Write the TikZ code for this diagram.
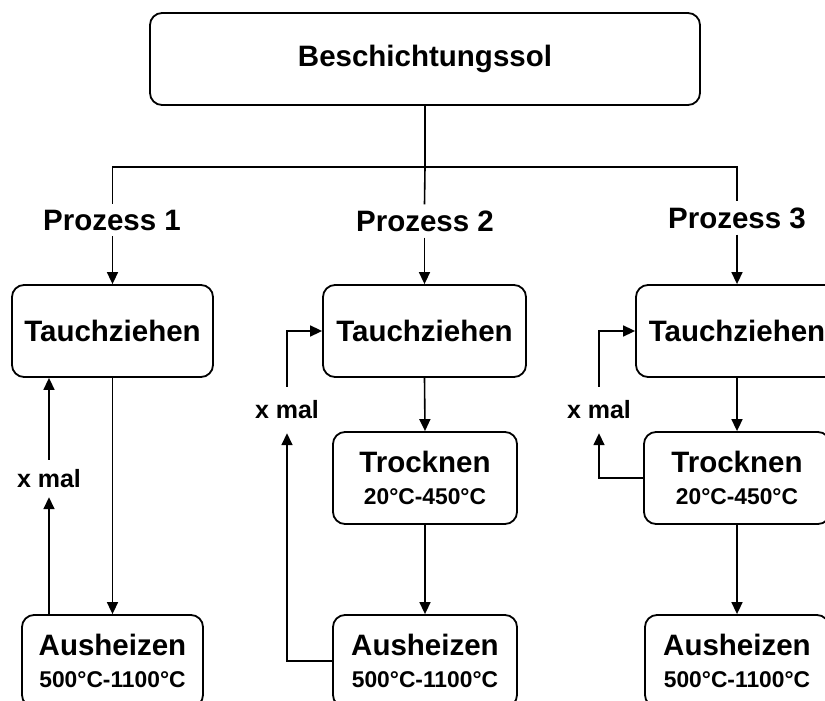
\documentclass[tikz,border=0pt]{standalone}
\usepackage{fontspec}
\setmainfont{Liberation Sans}
\usetikzlibrary{arrows.meta}
\begin{document}
\begin{tikzpicture}[x=1pt,y=-1pt,
  box/.style={draw, line width=1.8pt, rounded corners=12pt, align=center, inner sep=0pt,
    minimum height=92pt, font=\bfseries\fontsize{29.5}{32}\selectfont},
  lbl/.style={inner xsep=0pt, inner ysep=6pt, font=\bfseries\fontsize{29.5}{32}\selectfont},
  xm/.style={inner sep=0pt, font=\bfseries\fontsize{25}{28}\selectfont},
  ln/.style={line width=1.6pt},
  arr/.style={ln, -{Triangle[length=12pt,width=11pt]}}]
\useasboundingbox (0,0) rectangle (825,701);
\newcommand{\tsub}[1]{{\fontsize{22.8}{32}\selectfont #1}}
% top
\node[box, minimum width=550pt] (top) at (425,59) {Beschichtungssol};
\coordinate (hj) at (425,167);
% process labels
\node[lbl] (p1) at (112,220) {Prozess 1};
\node[lbl] (p2) at (425,221) {Prozess 2};
\node[lbl] (p3) at (737,218) {Prozess 3};
% process 1
\node[box, minimum width=201pt] (t1) at (112.5,331) {Tauchziehen};
\node[box, minimum width=181pt] (a1) at (112.5,661) {Ausheizen\\\tsub{500°C-1100°C}};
\node[xm, minimum height=37pt] (x1) at (49,478.5) {x mal};
% process 2
\node[box, minimum width=203pt] (t2) at (424.5,331) {Tauchziehen};
\node[box, minimum width=184pt] (r2) at (425,478) {Trocknen\\\tsub{20°C-450°C}};
\node[box, minimum width=184pt] (a2) at (425,661) {Ausheizen\\\tsub{500°C-1100°C}};
\node[xm, minimum height=46pt] (x2) at (287,410) {x mal};
% process 3
\node[box, minimum width=202pt] (t3) at (737,331) {Tauchziehen};
\node[box, minimum width=186pt] (r3) at (737,478) {Trocknen\\\tsub{20°C-450°C}};
\node[box, minimum width=184pt] (a3) at (737,661) {Ausheizen\\\tsub{500°C-1100°C}};
\node[xm, minimum height=46pt] (x3) at (599,410) {x mal};
% tree connectors
\draw[ln] (top.south) -- (hj);
\draw[ln] (t1.north |- p1.north) |- (hj) -| (t3.north |- p3.north);
\draw[ln] (hj) -- (t2.north |- p2.north);
\draw[arr] (t1.north |- p1.south) -- (t1.north);
\draw[arr] (t2.north |- p2.south) -- (t2.north);
\draw[arr] (t3.north |- p3.south) -- (t3.north);
% process 1 flow
\draw[arr] (t1.south) -- (a1.north);
\draw[arr] (x1.south |- a1.north) -- (x1.south);
\draw[arr] (x1.north) -- (x1.north |- t1.south);
% process 2 flow
\draw[arr] (t2.south) -- (r2.north);
\draw[arr] (r2.south) -- (a2.north);
\draw[arr] (a2.west) -| (x2.south);
\draw[arr] (x2.north) |- (t2.west);
% process 3 flow
\draw[arr] (t3.south) -- (r3.north);
\draw[arr] (r3.south) -- (a3.north);
\draw[arr] (r3.west) -| (x3.south);
\draw[arr] (x3.north) |- (t3.west);
\end{tikzpicture}
\end{document}
